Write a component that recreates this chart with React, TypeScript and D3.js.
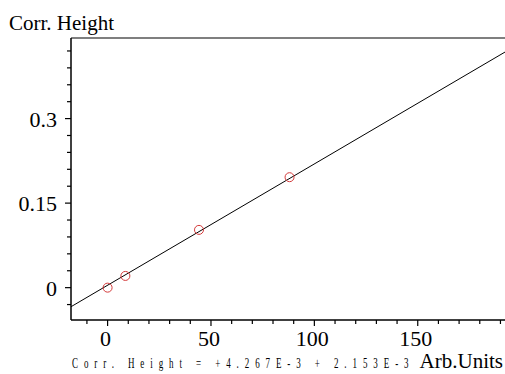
import * as d3 from "d3";

// measured points (Arb.Units vs Corr. Height)
const xs = [0, 8.6, 44.2, 88];
const ys = [0, 0.0208, 0.1025, 0.196];

// fit coefficients shown under the axis
const intercept = 4.267e-3;
const slope = 2.153e-3;

const xTicks = [0, 50, 100, 150];
const yTicks = [0, 0.15, 0.3];

const fmtE = (v: number) => v.toExponential(3).replace("e-", "E-");

export default function App() {
  const width = 505;
  const height = 374;
  const margin = { top: 38, right: 0, bottom: 54, left: 71 };

  const x = d3.scaleLinear([-17.7, 192.2], [margin.left, width - margin.right]);
  const y = d3.scaleLinear([-0.0574, 0.443], [height - margin.bottom, margin.top]);

  const xMinor = d3.range(-10, 192, 10).filter((v) => v % 50 !== 0);
  const yMinor = d3.range(-0.03, 0.44, 0.03).filter((v) => Math.abs(v / 0.15 - Math.round(v / 0.15)) > 0.01);

  const [x0, x1] = x.domain();
  const line = d3.line<number>()
    .x((v) => x(v))
    .y((v) => y(intercept + slope * v));

  const serif = "'Liberation Serif', 'Times New Roman', serif";
  const axisY = height - margin.bottom;
  const squeeze = 0.6;

  return (
    <svg
      width={width}
      height={height}
      viewBox={`0 0 ${width} ${height}`}
      style={{ position: "absolute", left: 0, top: 0, background: "#fff" }}
      fontFamily={serif}
    >
      <text x={9} y={30} fontSize={21}>Corr. Height</text>

      {/* frame: top, left, bottom */}
      <line x1={margin.left} x2={width} y1={margin.top} y2={margin.top} stroke="#000" strokeWidth={1.2} />
      <line x1={margin.left} x2={margin.left} y1={margin.top} y2={axisY} stroke="#000" strokeWidth={1.5} />
      <line x1={margin.left} x2={width} y1={axisY} y2={axisY} stroke="#000" strokeWidth={1.5} />

      {yTicks.map((t) => (
        <g key={`yt${t}`}>
          <line x1={margin.left - 6} x2={margin.left} y1={y(t)} y2={y(t)} stroke="#000" strokeWidth={1.2} />
          <text x={margin.left - 14} y={y(t) + 8} fontSize={22} textAnchor="end">{t}</text>
        </g>
      ))}
      {yMinor.map((t) => (
        <line key={`ym${t}`} x1={margin.left - 4} x2={margin.left} y1={y(t)} y2={y(t)} stroke="#000" strokeWidth={1.2} />
      ))}

      {xTicks.map((t) => (
        <g key={`xt${t}`}>
          <line x1={x(t)} x2={x(t)} y1={axisY} y2={axisY + 6} stroke="#000" strokeWidth={1.2} />
          <text x={x(t) - 2} y={axisY + 26} fontSize={22} textAnchor="middle">{t}</text>
        </g>
      ))}
      {xMinor.map((t) => (
        <line key={`xm${t}`} x1={x(t)} x2={x(t)} y1={axisY} y2={axisY + 4} stroke="#000" strokeWidth={1.2} />
      ))}

      <path d={line([x0, x1]) ?? ""} fill="none" stroke="#000" strokeWidth={1} />

      {xs.map((v, i) => (
        <circle key={i} cx={x(v)} cy={y(ys[i])} r={4.5} fill="none" stroke="#d43a3a" strokeWidth={1} />
      ))}

      <g transform={`translate(72,368) scale(${squeeze},1)`}>
        <text x={0} y={0} fontSize={15} letterSpacing={9.85} fill="#000">
          {`Corr. Height = +${fmtE(intercept)} + ${fmtE(slope)}`}
        </text>
      </g>
      <text x={503} y={368} fontSize={21} textAnchor="end">Arb.Units</text>
    </svg>
  );
}
